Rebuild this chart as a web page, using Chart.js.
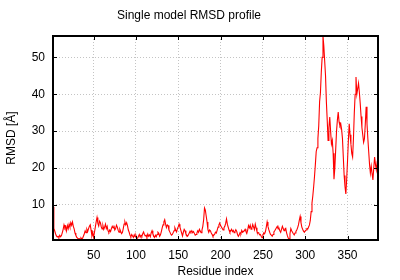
<!DOCTYPE html>
<html>
<head>
<meta charset="utf-8">
<script src="https://cdn.jsdelivr.net/npm/chart.js@4/dist/chart.umd.min.js"></script>
<style>
  html, body { margin: 0; padding: 0; background: #fff; }
  #wrap { width: 400px; height: 280px; }
</style>
</head>
<body>
<div id="wrap"><canvas id="chart-rmsd"></canvas></div>
<script>
const FIRST_RESIDUE = 2;

// per-residue RMSD (Å), residues 2..386
const RMSD = [
  9.5, 3.6, 3.0, 2.2, 1.6, 1.3, 1.5, 1.2, 1.8, 1.4,
  1.7, 2.5, 3.4, 4.6, 3.8, 4.2, 3.0, 4.4, 3.6, 4.8,
  4.0, 5.2, 4.5, 5.4, 4.2, 3.5, 2.4, 1.8, 1.3, 1.0,
  0.8, 0.9, 0.7, 1.1, 0.8, 1.0, 1.6, 2.2, 3.0, 2.5,
  3.4, 2.8, 3.6, 4.2, 4.6, 3.2, 1.6, 2.4, 1.2, 2.6,
  4.0, 5.4, 6.6, 5.0, 4.3, 5.6, 5.2, 4.1, 3.5, 4.4,
  3.4, 4.0, 4.8, 3.6, 4.2, 3.0, 2.6, 3.2, 2.8, 3.6,
  4.2, 3.8, 4.4, 3.2, 3.6, 4.5, 4.0, 3.1, 2.6, 3.4,
  2.8, 2.2, 2.5, 3.6, 4.8, 5.4, 4.6, 5.2, 4.4, 3.2,
  2.6, 1.8, 1.4, 2.0, 1.6, 1.2, 1.9, 1.4, 1.7, 0.9,
  1.0, 1.5, 2.0, 1.3, 1.8, 1.5, 2.2, 2.7, 2.0, 1.6,
  1.8, 1.2, 2.1, 1.5, 1.9, 1.4, 2.4, 3.0, 2.2, 1.6,
  1.2, 1.8, 1.4, 2.0, 2.6, 2.3, 1.5, 1.9, 2.8, 3.8,
  4.6, 5.4, 6.0, 4.8, 3.9, 4.6, 4.4, 3.2, 2.7, 2.2,
  1.8, 2.0, 2.5, 3.0, 3.8, 3.2, 2.7, 3.6, 4.1, 4.8,
  4.0, 3.2, 2.4, 1.6, 2.6, 3.4, 3.0, 2.2, 1.8, 1.5,
  1.9, 2.4, 2.9, 2.6, 3.0, 2.5, 2.8, 2.3, 1.8, 2.0,
  2.4, 3.0, 2.6, 3.4, 2.9, 2.5, 3.2, 4.2, 6.0, 9.2,
  8.6, 7.0, 5.4, 3.4, 2.6, 3.2, 3.0, 2.4, 2.0, 1.5,
  1.8, 2.1, 2.6, 2.4, 3.2, 4.0, 4.6, 5.1, 4.4, 4.0,
  3.6, 3.2, 3.8, 4.2, 5.0, 6.2, 4.8, 4.0, 3.2, 2.6,
  3.0, 3.4, 2.8, 3.1, 2.5, 2.8, 3.3, 2.9, 2.0, 1.5,
  1.9, 2.5, 2.2, 3.1, 2.6, 2.8, 3.0, 3.4, 2.8, 2.3,
  3.2, 4.4, 3.8, 4.5, 3.4, 3.8, 4.7, 4.0, 3.3, 4.8,
  3.8, 2.8, 2.4, 2.5, 1.9, 2.0, 1.5, 1.1, 1.8, 2.4,
  2.2, 2.8, 4.0, 5.4, 4.2, 3.3, 2.6, 2.0, 1.8, 1.5,
  2.0, 2.7, 3.0, 3.4, 3.8, 4.2, 3.5, 3.7, 3.0, 2.6,
  3.4, 4.2, 3.6, 3.0, 3.5, 3.7, 2.4, 1.6, 1.0, 0.8,
  2.2, 3.6, 3.0, 2.6, 2.2, 1.9, 2.4, 2.8, 3.2, 3.8,
  4.6, 5.8, 6.9, 5.2, 4.0, 3.4, 2.9, 2.6, 3.0, 3.2,
  3.6, 3.5, 4.0, 4.6, 5.8, 8.2, 10.5, 12.5, 15.0, 17.8,
  21.0, 24.5, 25.5, 28.0, 31.5, 38.0, 40.5, 46.0, 50.0, 55.8,
  53.0, 49.0, 45.0, 38.0, 33.0, 27.5, 31.0, 33.8, 30.0, 26.5,
  27.5, 24.0, 17.0, 20.0, 25.0, 30.0, 33.0, 35.2, 32.5, 31.5,
  32.0, 30.5, 28.0, 23.0, 18.0, 15.0, 13.0, 17.0, 22.0, 27.5,
  32.0, 29.0, 26.5, 24.0, 23.0, 28.0, 35.0, 40.0, 44.7, 40.0,
  41.5, 43.0, 40.5, 37.5, 34.0, 31.0, 29.0, 27.0, 28.0, 32.0,
  36.6, 32.0, 28.0, 24.5, 21.0, 18.6, 20.5, 18.5, 16.8, 20.0,
  23.0, 21.0, 19.5, 21.5, 21.0
];

const X_TICKS = [50, 100, 150, 200, 250, 300, 350];
const Y_TICKS = [10, 20, 30, 40, 50];
const X_RANGE = [2, 386];
const Y_RANGE = [0.5, 55.8];

const FONT = { family: "'Liberation Sans', Arial, sans-serif", size: 12, weight: "normal" };

Chart.defaults.font = FONT;
Chart.defaults.color = "#000";

// gnuplot style frame: thick border + inward ticks on all four sides
const framePlugin = {
  id: "frame",
  afterDatasetsDraw(chart) {
    const { ctx, chartArea: a, scales } = chart;
    ctx.save();
    ctx.strokeStyle = "#000";
    ctx.lineWidth = 1;
    ctx.beginPath();
    X_TICKS.forEach((v) => {
      const px = Math.round(scales.x.getPixelForValue(v)) + 0.5;
      ctx.moveTo(px, a.bottom); ctx.lineTo(px, a.bottom - 4);
      ctx.moveTo(px, a.top); ctx.lineTo(px, a.top + 4);
    });
    Y_TICKS.forEach((v) => {
      const py = Math.round(scales.y.getPixelForValue(v)) + 0.5;
      ctx.moveTo(a.left, py); ctx.lineTo(a.left + 4, py);
      ctx.moveTo(a.right, py); ctx.lineTo(a.right - 4, py);
    });
    ctx.stroke();
    ctx.lineWidth = 2;
    ctx.strokeRect(a.left, a.top, a.right - a.left, a.bottom - a.top);
    ctx.restore();
  },
};

function keepTicks(list) {
  return (scale) => {
    scale.ticks = list.map((v) => ({ value: v }));
  };
}

function initRmsdChart() {
  const points = RMSD.map((v, i) => ({ x: FIRST_RESIDUE + i, y: v }));
  new Chart(document.getElementById("chart-rmsd"), {
    type: "line",
    data: {
      datasets: [{
        data: points,
        borderColor: "#ff0000",
        borderWidth: 1.1,
        pointRadius: 0,
        tension: 0,
        fill: false,
      }],
    },
    options: {
      responsive: true,
      maintainAspectRatio: false,
      animation: false,
      layout: { padding: { left: 0, right: 22, top: 0, bottom: 0 } },
      plugins: {
        legend: { display: false },
        tooltip: { enabled: false },
        title: {
          display: true,
          text: "Single model RMSD profile",
          color: "#000",
          font: FONT,
          padding: { top: 8.5, bottom: 13.1 },
        },
      },
      scales: {
        x: {
          type: "linear",
          min: X_RANGE[0],
          max: X_RANGE[1],
          afterBuildTicks: keepTicks(X_TICKS),
          afterFit: (s) => { s.height = 40; },
          grid: { color: "#c4c4c4", drawTicks: false, lineWidth: 1 },
          border: { display: false, dash: [1, 2] },
          ticks: { padding: 8, maxRotation: 0, color: "#000" },
          title: { display: true, text: "Residue index", color: "#000", padding: { top: 0, bottom: 1.3 } },
        },
        y: {
          type: "linear",
          min: Y_RANGE[0],
          max: Y_RANGE[1],
          afterBuildTicks: keepTicks(Y_TICKS),
          afterFit: (s) => { s.width = 53; },
          grid: { color: "#c4c4c4", drawTicks: false, lineWidth: 1 },
          border: { display: false, dash: [1, 2] },
          ticks: { padding: 8, color: "#000" },
          title: { display: true, text: "RMSD [Å]", color: "#000", padding: { top: 4.5, bottom: 0 } },
        },
      },
    },
    plugins: [framePlugin],
  });
}

document.addEventListener("DOMContentLoaded", initRmsdChart);
</script>
</body>
</html>
